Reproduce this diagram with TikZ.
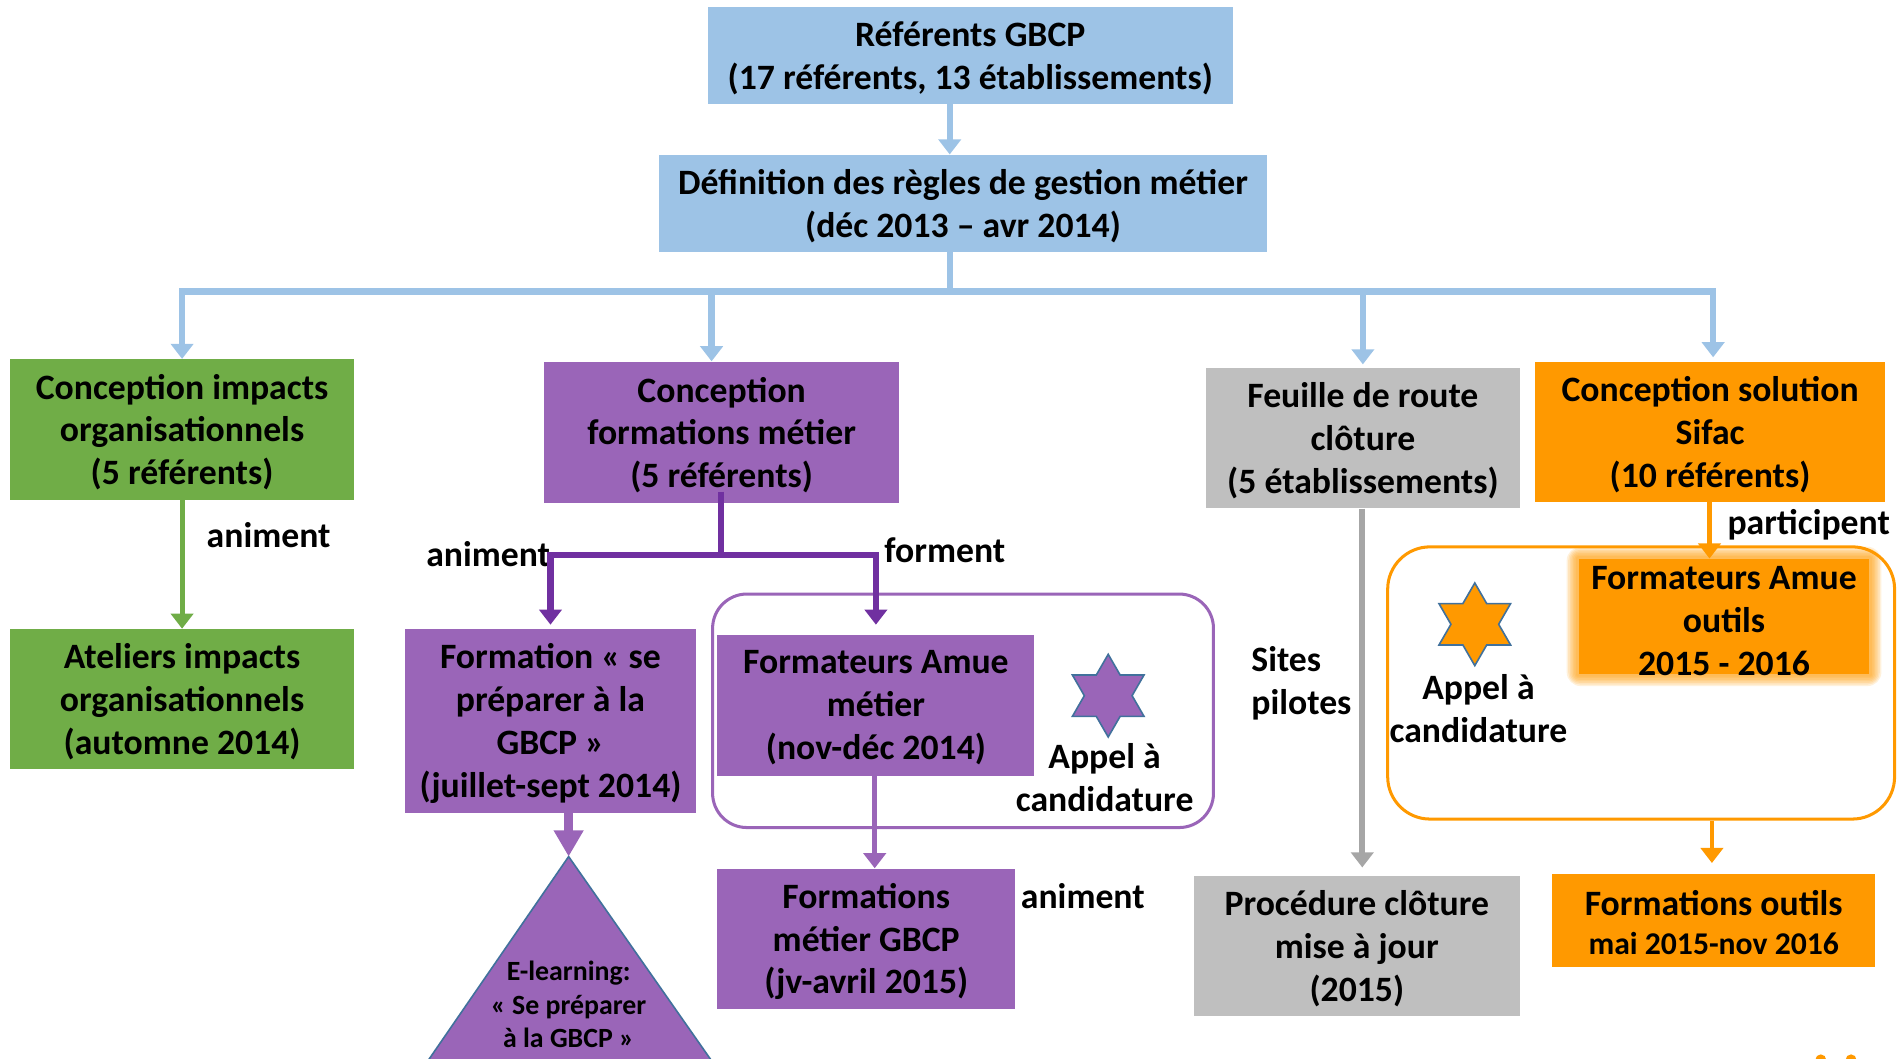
\documentclass[tikz,border=0pt]{standalone}
\usepackage{fontspec}
\setmainfont{Carlito}
\usetikzlibrary{arrows.meta,fit,calc,shapes.geometric}
\definecolor{lblue}{HTML}{9DC3E6}
\definecolor{cgreen}{HTML}{70AD47}
\definecolor{cpurple}{HTML}{9A65B8}
\definecolor{dpurple}{HTML}{7030A0}
\definecolor{cgray}{HTML}{BFBFBF}
\definecolor{dgray}{HTML}{A6A6A6}
\definecolor{corange}{HTML}{FF9900}
\definecolor{sline}{HTML}{41719C}
\newcommand\mfs{\fontsize{17.7}{21.3}\selectfont\bfseries}
\begin{document}
\begin{tikzpicture}[x=0.6pt,y=-0.6pt,
  bx/.style={inner sep=0pt},
  txt/.style={inner sep=0pt,align=center,font=\mfs,text=black,yshift=-1.3pt},
  lbl/.style={inner sep=0pt,align=center,font=\mfs,text=black},
  tip/.style={-{Triangle[width=11pt,length=7.5pt]}},
  barrow/.style={draw=lblue,line width=3.2pt,tip},
  garrow/.style={draw=cgreen,line width=2.4pt,tip},
  parrow/.style={draw=dpurple,line width=3pt,tip},
  marrow/.style={draw=cpurple,line width=2.4pt,tip},
  grarrow/.style={draw=dgray,line width=3pt,tip},
  oarrow/.style={draw=corange,line width=2.4pt,tip},
  hexstar/.style={star,star points=6,star point ratio=1.732,minimum size=41pt,inner sep=0pt,draw=sline,line width=0.8pt}]
\clip (0,0) rectangle (1568,874.5);
\useasboundingbox (0,0) rectangle (1568,874.5);

% top boxes
\node[bx,fill=lblue,fit={(585,6)(1019,86)}] (b1) {};
\node[txt] (b1t) at (b1.center) {Référents GBCP\\(17 référents, 13 établissements)};
\node[bx,fill=lblue,fit={(545,128)(1047,208)}] (b2) {};
\node[txt] (b2t) at (b2.center) {Définition des règles de gestion métier\\(déc 2013 -- avr 2014)};

% second row
\node[bx,fill=cgreen,fit={(8,297)(293,413)}] (g1) {};
\node[txt] (g1t) at (g1.center) {Conception impacts\\organisationnels\\(5 référents)};
\node[bx,fill=cpurple,fit={(450,299)(743,416)}] (p1) {};
\node[txt] (p1t) at (p1.center) {Conception\\formations métier\\(5 référents)};
\node[bx,fill=cgray,fit={(997,304)(1256,420)}] (r1) {};
\node[txt] (r1t) at (r1.center) {Feuille de route\\clôture\\(5 établissements)};
\node[bx,fill=corange,fit={(1269,299)(1558,415)}] (o1) {};
\node[txt] (o1t) at (o1.center) {Conception solution\\Sifac\\(10 référents)};

% lower boxes
\node[bx,fill=cgreen,fit={(8,520)(293,636)}] (g2) {};
\node[txt] (g2t) at (g2.center) {Ateliers impacts\\organisationnels\\(automne 2014)};
\node[bx,fill=cpurple,fit={(335,520)(575,672)}] (p2) {};
\node[txt] (p2t) at (p2.center) {Formation « se\\préparer à la\\GBCP »\\(juillet-sept 2014)};
\node[draw=cpurple,line width=1.5pt,rounded corners=17pt,inner sep=0pt,fit={(589,491)(1003,684)}] (pframe) {};
\node[bx,fill=cpurple,fit={(593,525)(855,641)}] (p3) {};
\node[txt] (p3t) at (p3.center) {Formateurs Amue\\métier\\(nov-déc 2014)};
\node[bx,fill=cpurple,fit={(593,718)(839,834)}] (p4) {};
\node[txt] (p4t) at (p4.center) {Formations\\métier GBCP\\(jv-avril 2015)};
\node[bx,fill=cgray,fit={(987,724)(1256,840)}] (r2) {};
\node[txt] (r2t) at (r2.center) {Procédure clôture\\mise à jour\\(2015)};

% orange frame and blurred box
\node[draw=corange,line width=1.5pt,rounded corners=21pt,inner sep=0pt,fit={(1147,452)(1566,677)}] (oframe) {};
\foreach \d in {1,...,7}
  \fill[corange,opacity=0.14,rounded corners=\d pt] (1304-\d*1.3,461-\d*1.3) rectangle (1546+\d*1.3,558+\d*1.3);
\node[bx,fill=corange,fit={(1305,462)(1545,557)}] (o2) {};
\node[txt] (o2t) at ([yshift=-1pt]o2.center) {Formateurs Amue\\outils\\2015 - 2016};
\node[bx,fill=corange,fit={(1283,722)(1550,799)}] (o3) {};
\node[txt] (o3t) at (o3.center) {Formations outils\\[-2pt]{\fontsize{15.7}{18}\selectfont mai 2015-nov 2016}};

% triangle
\coordinate (triapex) at (470,708);
\fill[cpurple] (triapex) -- (346,888) -- (596,888) -- cycle;
\draw[sline,line width=0.8pt] (346,888) -- (triapex) -- (596,888);
\node[txt,font=\fontsize{13.8}{16.8}\selectfont\bfseries] (tri) at (470,828) {E-learning:\\« Se préparer\\à la GBCP »};

% stars
\node[hexstar,fill=cpurple] (s1) at (916,575) {};
\node[hexstar,fill=corange] (s2) at (1219,516) {};

% labels
\node[lbl] (l1) at (222,442) {animent};
\node[lbl,anchor=east] (l2) at (455,458) {animent};
\node[lbl] (l3) at (781,455) {forment};
\node[lbl] (l4) at (895,741) {animent};
\node[lbl] (l5) at (1495,434) {participent};
\node[lbl,align=left,anchor=west] (l6) at (1034,565) {Sites\\pilotes};
\node[lbl] (l7) at (913,643) {Appel à\\candidature};
\node[lbl] (l8) at (1222,586) {Appel à\\candidature};

% blue connectors
\draw[barrow] (b1.south -| 785,0) -- (b2.north -| 785,0);
\coordinate (hub) at (785,241);
\draw[draw=lblue,line width=3.2pt] (b2.south -| hub) -- (hub);
\draw[barrow] (hub) -| (g1.north);
\draw[barrow] (hub) -| ([xshift=-5pt]p1.north);
\draw[barrow] (hub) -| ([yshift=1.5pt]r1.north);
\draw[barrow] (hub) -| ([xshift=1.5pt,yshift=2pt]o1.north);

% green
\draw[garrow] (g1.south) -- (g2.north);

% purple tree
\coordinate (pj) at (596,459);
\draw[draw=dpurple,line width=3pt] ([yshift=6pt]p1.south -| pj) -- (pj);
\draw[parrow] (pj) -| ([yshift=2pt]p2.north);
\draw[parrow] (pj) -| ([yshift=5pt]p3.north);
\draw[marrow] (p3.south -| 723,0) -- (p4.north -| 723,0);
\draw[draw=cpurple,line width=4.8pt,-{Triangle[width=14pt,length=13pt]}] (p2.south -| triapex) -- (triapex);

% gray
\draw[grarrow] (r1.south -| 1126,0) -- ([yshift=4pt]r2.north -| 1126,0);

% orange
\draw[oarrow] (o1.south -| 1413,0) -- (o2.north -| 1413,0);
\draw[oarrow] (oframe.south -| 1415,0) -- ([yshift=5pt]o3.north -| 1415,0);

% logo fragment
\fill[corange] (1505,876) circle (4.5);
\fill[corange] (1530,876) circle (4.5);
\end{tikzpicture}
\end{document}
